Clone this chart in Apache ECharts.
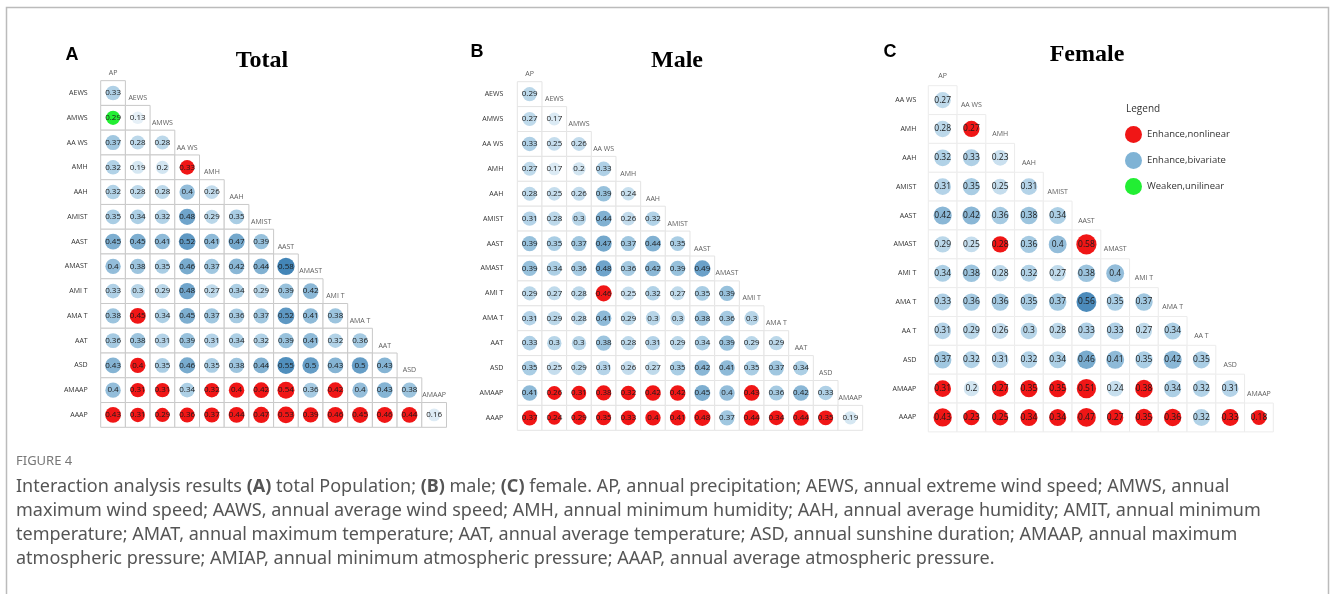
<!DOCTYPE html>
<html>
<head>
<meta charset="utf-8">
<script src="https://cdn.jsdelivr.net/npm/echarts@6/dist/echarts.min.js"></script>
<style>
  html, body { margin: 0; padding: 0; background: #fff; }
  #main { width: 1330px; height: 594px; }
</style>
</head>
<body>
<div id="main"></div>
<script>
// variables: first n are columns, last n are rows
const totalVars = ['AP', 'AEWS', 'AMWS', 'AA WS', 'AMH', 'AAH', 'AMIST', 'AAST', 'AMAST', 'AMI T', 'AMA T', 'AAT', 'ASD', 'AMAAP', 'AAAP']
const totalValues = [
  [0.33],
  [0.29, 0.13],
  [0.37, 0.28, 0.28],
  [0.32, 0.19, 0.2, 0.33],
  [0.32, 0.28, 0.28, 0.4, 0.26],
  [0.35, 0.34, 0.32, 0.48, 0.29, 0.35],
  [0.45, 0.45, 0.41, 0.52, 0.41, 0.47, 0.39],
  [0.4, 0.38, 0.35, 0.46, 0.37, 0.42, 0.44, 0.58],
  [0.33, 0.3, 0.29, 0.48, 0.27, 0.34, 0.29, 0.39, 0.42],
  [0.38, 0.45, 0.34, 0.45, 0.37, 0.36, 0.37, 0.52, 0.41, 0.38],
  [0.36, 0.38, 0.31, 0.39, 0.31, 0.34, 0.32, 0.39, 0.41, 0.32, 0.36],
  [0.43, 0.4, 0.35, 0.46, 0.35, 0.38, 0.44, 0.55, 0.5, 0.43, 0.5, 0.43],
  [0.4, 0.31, 0.31, 0.34, 0.32, 0.4, 0.42, 0.54, 0.36, 0.42, 0.4, 0.43, 0.38],
  [0.43, 0.31, 0.29, 0.36, 0.37, 0.44, 0.47, 0.53, 0.39, 0.46, 0.45, 0.46, 0.44, 0.16]
]
// b = enhance bivariate, r = enhance nonlinear, g = weaken unilinear
const totalTypes = [
  'b', 'gb', 'bbb', 'bbbr', 'bbbbb', 'bbbbbb', 'bbbbbbb', 'bbbbbbbb', 'bbbbbbbbb',
  'brbbbbbbbb', 'bbbbbbbbbbb', 'brbbbbbbbbbb', 'brrbrrrrbrbbb', 'rrrrrrrrrrrrrb'
]

const maleVars = ['AP', 'AEWS', 'AMWS', 'AA WS', 'AMH', 'AAH', 'AMIST', 'AAST', 'AMAST', 'AMI T', 'AMA T', 'AAT', 'ASD', 'AMAAP', 'AAAP']
const maleValues = [
  [0.29],
  [0.27, 0.17],
  [0.33, 0.25, 0.26],
  [0.27, 0.17, 0.2, 0.33],
  [0.28, 0.25, 0.26, 0.39, 0.24],
  [0.31, 0.28, 0.3, 0.44, 0.26, 0.32],
  [0.39, 0.35, 0.37, 0.47, 0.37, 0.44, 0.35],
  [0.39, 0.34, 0.36, 0.48, 0.36, 0.42, 0.39, 0.49],
  [0.29, 0.27, 0.28, 0.46, 0.25, 0.32, 0.27, 0.35, 0.39],
  [0.31, 0.29, 0.28, 0.41, 0.29, 0.3, 0.3, 0.38, 0.36, 0.3],
  [0.33, 0.3, 0.3, 0.38, 0.28, 0.31, 0.29, 0.34, 0.39, 0.29, 0.29],
  [0.35, 0.25, 0.29, 0.31, 0.26, 0.27, 0.35, 0.42, 0.41, 0.35, 0.37, 0.34],
  [0.41, 0.26, 0.31, 0.38, 0.32, 0.42, 0.42, 0.45, 0.4, 0.43, 0.36, 0.42, 0.33],
  [0.37, 0.24, 0.29, 0.35, 0.33, 0.4, 0.41, 0.48, 0.37, 0.44, 0.34, 0.44, 0.35, 0.19]
]
const maleTypes = [
  'b', 'bb', 'bbb', 'bbbb', 'bbbbb', 'bbbbbb', 'bbbbbbb', 'bbbbbbbb', 'bbbrbbbbb',
  'bbbbbbbbbb', 'bbbbbbbbbbb', 'bbbbbbbbbbbb', 'brrrrrrbbrbbb', 'rrrrrrrrbrrrrb'
]

const femaleVars = ['AP', 'AA WS', 'AMH', 'AAH', 'AMIST', 'AAST', 'AMAST', 'AMI T', 'AMA T', 'AA T', 'ASD', 'AMAAP', 'AAAP']
const femaleValues = [
  [0.27],
  [0.28, 0.27],
  [0.32, 0.33, 0.23],
  [0.31, 0.35, 0.25, 0.31],
  [0.42, 0.42, 0.36, 0.38, 0.34],
  [0.29, 0.25, 0.28, 0.36, 0.4, 0.58],
  [0.34, 0.38, 0.28, 0.32, 0.27, 0.38, 0.4],
  [0.33, 0.36, 0.36, 0.35, 0.37, 0.56, 0.35, 0.37],
  [0.31, 0.29, 0.26, 0.3, 0.28, 0.33, 0.33, 0.27, 0.34],
  [0.37, 0.32, 0.31, 0.32, 0.34, 0.46, 0.41, 0.35, 0.42, 0.35],
  [0.31, 0.2, 0.27, 0.35, 0.35, 0.51, 0.24, 0.38, 0.34, 0.32, 0.31],
  [0.43, 0.23, 0.25, 0.34, 0.34, 0.47, 0.27, 0.35, 0.36, 0.32, 0.33, 0.18]
]
const femaleTypes = [
  'b', 'br', 'bbb', 'bbbb', 'bbbbb', 'bbrbbr', 'bbbbbbb', 'bbbbbbbb', 'bbbbbbbbb',
  'bbbbbbbbbb', 'rbrrrrbrbbb', 'rrrrrrrrrbrr'
]

const typeNames = { r: 'Enhance,nonlinear', b: 'Enhance,bivariate', g: 'Weaken,unilinear' }
const typeColors = { r: '#f01616', b: '#7fb3d5', g: '#22ee33' }

const panels = [
  { vars: totalVars, values: totalValues, types: totalTypes, left: 100.7, top: 55.9, cell: 24.7, cellH: 24.76, border: '#c9c9c9', scale: 1, margin: 13 },
  { vars: maleVars, values: maleValues, types: maleTypes, left: 517.3, top: 56.8, cell: 24.67, cellH: 24.9, border: '#e4e4e4', scale: 1, margin: 14 },
  { vars: femaleVars, values: femaleValues, types: femaleTypes, left: 928.3, top: 56.85, cell: 28.75, cellH: 28.85, border: '#ececec', scale: 1.16, margin: 12 }
]

const chart = echarts.init(document.getElementById('main'))

const grids = []
const xAxes = []
const yAxes = []
const series = []
const blueIdx = []

panels.forEach((p, i) => {
  const n = p.values.length
  const cols = p.vars.slice(0, n)
  const rows = [''].concat(p.vars.slice(1))
  grids.push({ left: p.left, top: p.top, width: n * p.cell, height: (n + 1) * p.cellH })
  xAxes.push({ type: 'category', gridIndex: i, data: cols, show: false })
  yAxes.push({
    type: 'category', gridIndex: i, data: rows, inverse: true,
    axisLine: { show: false }, axisTick: { show: false }, splitLine: { show: false },
    axisLabel: { fontSize: 7, color: '#333', margin: p.margin, fontFamily: 'Open Sans' }
  })

  // cell frames
  const cells = []
  p.values.forEach((row, r) => row.forEach((v, c) => cells.push([c, r + 1])))
  series.push({
    type: 'custom', xAxisIndex: i, yAxisIndex: i, silent: true, z: 1,
    renderItem: (params, api) => {
      const pt = api.coord([api.value(0), api.value(1)])
      const sz = api.size([1, 1])
      return {
        type: 'rect',
        shape: { x: pt[0] - sz[0] / 2, y: pt[1] - sz[1] / 2, width: sz[0], height: sz[1] },
        style: { fill: '#fff', stroke: p.border, lineWidth: 1 }
      }
    },
    data: cells
  })

  // circles by interaction type
  ;['r', 'b', 'g'].forEach(t => {
    const data = []
    p.values.forEach((row, r) => row.forEach((v, c) => {
      if (p.types[r][c] === t) data.push([c, r + 1, v])
    }))
    if (t === 'b') blueIdx.push(series.length)
    series.push({
      name: typeNames[t], type: 'scatter', xAxisIndex: i, yAxisIndex: i, z: 3,
      data: data,
      symbolSize: val => (11 + 11 * val[2]) * p.scale,
      itemStyle: { color: typeColors[t], opacity: 1 },
      label: {
        show: true, position: 'inside', color: '#1a1a1a',
        fontSize: 8 * (p.scale > 1 ? 1.06 : 1), fontFamily: 'Open Sans',
        formatter: q => String(q.value[2])
      }
    })
  })

  // column headers on the diagonal
  series.push({
    type: 'scatter', xAxisIndex: i, yAxisIndex: i, symbolSize: 0, silent: true, z: 4,
    data: cols.map((name, c) => ({ value: [c, c], name: name })),
    label: {
      show: true, position: 'inside', offset: [0, 5], formatter: '{b}',
      fontSize: 7, color: '#333', fontFamily: 'Open Sans'
    }
  })
})

const option = {
  animation: false,
  backgroundColor: '#fff',
  grid: grids,
  xAxis: xAxes,
  yAxis: yAxes,
  visualMap: {
    type: 'continuous', show: false, seriesIndex: blueIdx, dimension: 2,
    min: 0.1, max: 0.6,
    inRange: { color: ['#eef5fa', '#a9cde4', '#3a7fb3'] }
  },
  legend: {
    orient: 'vertical', left: 1120, top: 121, itemWidth: 17, itemHeight: 17, itemGap: 9,
    icon: 'circle', selectedMode: false,
    data: ['Enhance,nonlinear', 'Enhance,bivariate', 'Weaken,unilinear'],
    textStyle: { fontSize: 9.5, color: '#333', fontFamily: 'Open Sans' }
  },
  title: [
    { text: 'Legend', left: 1121, top: 99, textStyle: { fontSize: 10, fontWeight: 'normal', color: '#333', fontFamily: 'Open Sans' } },
    { text: 'FIGURE 4', left: 16, top: 455, padding: 0, textStyle: { fontSize: 13, fontWeight: 'normal', color: '#777', fontFamily: 'Noto Sans' } },
    {
      text: 'Interaction analysis results {b|(A)} total Population; {b|(B)} male; {b|(C)} female. AP, annual precipitation; AEWS, annual extreme wind speed; AMWS, annual\n' +
        'maximum wind speed; AAWS, annual average wind speed; AMH, annual minimum humidity; AAH, annual average humidity; AMIT, annual minimum\n' +
        'temperature; AMAT, annual maximum temperature; AAT, annual average temperature; ASD, annual sunshine duration; AMAAP, annual maximum\n' +
        'atmospheric pressure; AMIAP, annual minimum atmospheric pressure; AAAP, annual average atmospheric pressure.',
      left: 16, top: 475, padding: 0,
      textStyle: {
        fontSize: 18, fontWeight: 'normal', color: '#555', lineHeight: 24, fontFamily: 'Noto Sans',
        rich: { b: { fontSize: 18, fontWeight: 'bold', color: '#555', fontFamily: 'Noto Sans' } }
      }
    }
  ],
  graphic: [
    { type: 'rect', shape: { x: 6.5, y: 7.5, width: 1322, height: 600 }, style: { fill: null, stroke: '#bbb', lineWidth: 1.5 }, silent: true },
    { type: 'text', style: { text: 'A', x: 72, y: 55, textAlign: 'center', textVerticalAlign: 'middle', font: 'bold 18px Liberation Sans', fill: '#000' } },
    { type: 'text', style: { text: 'B', x: 477, y: 52, textAlign: 'center', textVerticalAlign: 'middle', font: 'bold 18px Liberation Sans', fill: '#000' } },
    { type: 'text', style: { text: 'C', x: 890, y: 52, textAlign: 'center', textVerticalAlign: 'middle', font: 'bold 18px Liberation Sans', fill: '#000' } },
    { type: 'text', style: { text: 'Total', x: 262, y: 61, textAlign: 'center', textVerticalAlign: 'middle', font: 'bold 24px Liberation Serif', fill: '#000' } },
    { type: 'text', style: { text: 'Male', x: 677, y: 61, textAlign: 'center', textVerticalAlign: 'middle', font: 'bold 24px Liberation Serif', fill: '#000' } },
    { type: 'text', style: { text: 'Female', x: 1087, y: 55, textAlign: 'center', textVerticalAlign: 'middle', font: 'bold 24px Liberation Serif', fill: '#000' } }
  ],
  series: series
}

chart.setOption(option)
</script>
</body>
</html>
